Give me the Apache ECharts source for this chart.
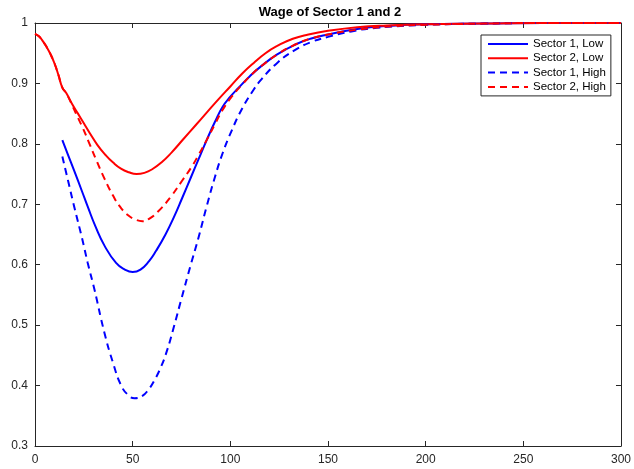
<!DOCTYPE html>
<html>
<head>
<meta charset="utf-8">
<script src="https://cdn.jsdelivr.net/npm/echarts@6/dist/echarts.min.js"></script>
<style>
html,body{margin:0;padding:0;background:#fff;}
#chart{width:634px;height:469px;}
</style>
</head>
<body>
<div id="chart"></div>
<script>
// ---- Data ----
const chartTitle = "Wage of Sector 1 and 2";
const seriesNames = ["Sector 1, Low", "Sector 2, Low", "Sector 1, High", "Sector 2, High"];
const xTicks = [0, 50, 100, 150, 200, 250, 300];
const yTicks = [0.3, 0.4, 0.5, 0.6, 0.7, 0.8, 0.9, 1];

const tS1Low = [14,17,20,24,27,31,35.5,41.5,46,50,54,58.4,62,66.8,71,75.3,80,83.8,88,92.2,96,100,104,110,116,124,133,141,150,165,180,200,230,260,300];
const vS1Low = [0.806,0.781,0.756,0.722,0.696,0.663,0.632,0.603,0.592,0.588,0.592,0.606,0.623,0.650,0.678,0.710,0.746,0.775,0.807,0.837,0.861,0.878,0.892,0.912,0.929,0.948,0.964,0.974,0.981,0.990,0.995,0.998,0.999,1.0,1.0];

const tS2Low = [0,2,4,6,8,10,12,14,16,19,22,25,28,32,36,40,44,48,52,56,60,65,70,76,82,88,94,100,106,112,118,124,132,140,150,165,180,200,230,260,300];
const vS2Low = [0.982,0.978,0.970,0.960,0.948,0.933,0.914,0.893,0.884,0.866,0.850,0.834,0.818,0.798,0.782,0.769,0.759,0.753,0.750,0.752,0.758,0.770,0.786,0.808,0.830,0.852,0.874,0.895,0.916,0.934,0.950,0.962,0.974,0.981,0.987,0.993,0.996,0.998,0.999,1.0,1.0];

const tS1High = [14,17,20.3,24,27,30.5,35.5,40,44,47.5,51,55,58,61,64.5,67.7,71,75,79.5,83.8,88,92.2,96,100.7,106,112,116,124,133,141,150,162,175,200,230,260,300];
const vS1High = [0.779,0.738,0.693,0.645,0.603,0.558,0.488,0.437,0.401,0.385,0.379,0.383,0.393,0.408,0.431,0.459,0.496,0.544,0.597,0.646,0.698,0.746,0.784,0.822,0.858,0.890,0.907,0.934,0.955,0.968,0.977,0.986,0.992,0.997,0.999,1.0,1.0];

const tS2High = [0,2,4,6,8,10,12,14,16,18.6,21,24.5,27.9,31,35.5,40,44,48,52,55,58.4,63,69.4,75.3,80,83.8,88,92.2,96,100.7,106,112,118,125,133,141,150,165,180,200,230,260,300];
const vS2High = [0.982,0.978,0.970,0.960,0.948,0.933,0.914,0.893,0.884,0.867,0.850,0.826,0.800,0.776,0.743,0.714,0.694,0.681,0.674,0.672,0.676,0.688,0.712,0.739,0.761,0.782,0.807,0.833,0.856,0.878,0.898,0.918,0.934,0.950,0.964,0.974,0.981,0.989,0.994,0.997,0.999,1.0,1.0];

// ---- Build ----
const zip = (t, v) => t.map((x, i) => [x, v[i]]);
const FONT = "'Liberation Sans', Arial, Helvetica, sans-serif";
const AX = '#262626';

function mkSeries(name, t, v, color, dashed) {
  return {
    name: name, type: 'line', data: zip(t, v),
    xAxisIndex: 0, yAxisIndex: 0,
    symbol: 'none', showSymbol: false, smooth: 0.5,
    lineStyle: { color: color, width: 2, type: dashed ? [7, 5] : 'solid' },
    itemStyle: { color: color },
    emphasis: { disabled: true },
    animation: false
  };
}

const axisCommonX = {
  type: 'value', min: xTicks[0], max: xTicks[xTicks.length - 1], interval: 50,
  splitLine: { show: false },
  axisLine: { show: true, onZero: false, lineStyle: { color: AX, width: 1 } },
  axisTick: { show: true, inside: true, length: 5, lineStyle: { color: AX } }
};
const axisCommonY = {
  type: 'value', min: yTicks[0], max: yTicks[yTicks.length - 1], interval: 0.1,
  splitLine: { show: false },
  axisLine: { show: true, onZero: false, lineStyle: { color: AX, width: 1 } },
  axisTick: { show: true, inside: true, length: 5, lineStyle: { color: AX } }
};

const chart = echarts.init(document.getElementById('chart'), null, { renderer: 'canvas' });
chart.setOption({
  animation: false,
  backgroundColor: '#fff',
  graphic: [{
    type: 'text', x: 330, y: 6,
    style: { text: chartTitle, textAlign: 'center', textVerticalAlign: 'top',
      font: 'bold 13px ' + FONT, fill: '#000' }
  }],
  grid: { left: 35, right: 8, top: 23, bottom: 23, containLabel: false },
  legend: {
    orient: 'vertical', left: 481, top: 35,
    data: seriesNames,
    itemWidth: 40, itemHeight: 12, itemGap: 2.3,
    padding: [3, 5, 3, 6],
    borderColor: AX, borderWidth: 1, backgroundColor: '#fff',
    itemStyle: { opacity: 0, borderWidth: 0 },
    textStyle: { fontFamily: FONT, fontSize: 11.5, color: '#000', lineHeight: 12 },
    selectedMode: false
  },
  xAxis: [
    Object.assign({}, axisCommonX, {
      position: 'bottom',
      axisLabel: { show: true, margin: 8, fontFamily: FONT, fontSize: 12, color: AX,
        formatter: v => String(v) }
    }),
    Object.assign({}, axisCommonX, { position: 'top', axisLabel: { show: false } })
  ],
  yAxis: [
    Object.assign({}, axisCommonY, {
      position: 'left',
      axisLabel: { show: true, margin: 7, fontFamily: FONT, fontSize: 12, color: AX,
        formatter: v => (Math.abs(v - 1) < 1e-9 ? '1' : v.toFixed(1)) }
    }),
    Object.assign({}, axisCommonY, { position: 'right', axisLabel: { show: false } })
  ],
  series: [
    mkSeries(seriesNames[0], tS1Low, vS1Low, '#0000ff', false),
    mkSeries(seriesNames[1], tS2Low, vS2Low, '#ff0000', false),
    mkSeries(seriesNames[2], tS1High, vS1High, '#0000ff', true),
    mkSeries(seriesNames[3], tS2High, vS2High, '#ff0000', true)
  ]
});
</script>
</body>
</html>
